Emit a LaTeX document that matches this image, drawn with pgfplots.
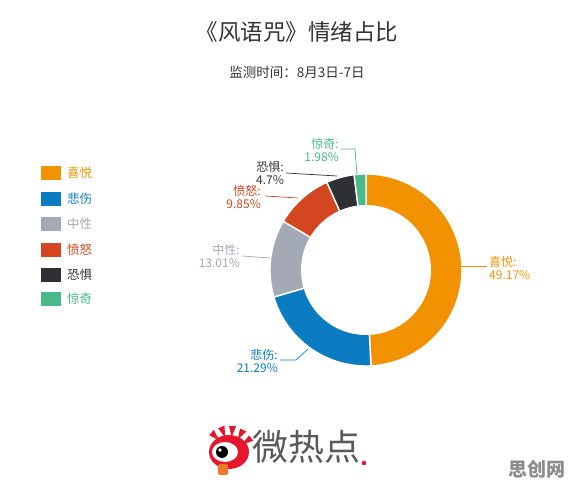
\documentclass[border=0pt]{standalone}
\usepackage{pgfplots}
\pgfplotsset{compat=1.18}
\usepackage{fontspec}
\setmainfont{Noto Sans CJK SC}
\definecolor{cJoy}{HTML}{F39200}
\definecolor{cSad}{HTML}{0B7CC1}
\definecolor{cNeu}{HTML}{A3AAB5}
\definecolor{cAng}{HTML}{D3461F}
\definecolor{cFear}{HTML}{2E3035}
\definecolor{cSur}{HTML}{47B98A}
\definecolor{cTxt}{HTML}{333333}
\definecolor{cLogoRed}{HTML}{E6162D}
\definecolor{cLogoOr}{HTML}{F07A2A}
\pgfdeclareplotmark{rsq}{%
  \pgfsetcornersarced{\pgfpoint{2.5pt}{2.5pt}}%
  \pgfpathrectanglecorners{\pgfpoint{-10pt}{-7pt}}{\pgfpoint{10pt}{7pt}}%
  \pgfusepathqfill}
% slice: cumulative start %, cumulative end %, colour
\newcommand{\slice}[3]{%
  \addplot[fill=#3, draw=white, line width=1.4pt, domain=90-3.6*#2:90-3.6*#1, samples=70, variable=\t]
    ({366+96*cos(\t)},{216+96*sin(\t)}) -- (axis cs:366,216) -- cycle;}
\begin{document}
\begin{tikzpicture}
\begin{axis}[width=573pt,height=486pt,scale only axis,
  xmin=0,xmax=573,ymin=0,ymax=486,hide axis,clip=false]
\path (axis cs:0,0) rectangle (axis cs:573,486);
% donut slices (percentages: 49.17, 21.29, 13.01, 9.85, 4.7, 1.98)
\slice{0}{49.17}{cJoy}
\slice{49.17}{70.46}{cSad}
\slice{70.46}{83.47}{cNeu}
\slice{83.47}{93.32}{cAng}
\slice{93.32}{98.02}{cFear}
\slice{98.02}{100}{cSur}
\addplot[fill=white, draw=none, domain=0:360, samples=120, variable=\t]
  ({366+65*cos(\t)},{216+65*sin(\t)}) -- cycle;
% leader lines
\addplot[cJoy, line width=0.7pt] coordinates {(461,220) (487,220)};
\addplot[cSad, line width=0.7pt] coordinates {(308,137) (296,126) (280,126)};
\addplot[cNeu, line width=0.7pt] coordinates {(270,228) (242,230)};
\addplot[cAng, line width=0.7pt] coordinates {(298,288) (265,290)};
\addplot[cFear, line width=0.7pt] coordinates {(337,310) (286,313)};
\addplot[cSur, line width=0.7pt] coordinates {(357,311) (355,337) (341,337)};
% data labels
\node[anchor=west, align=left, text=cJoy, font=\fontsize{12}{12.5}\selectfont, inner sep=0pt] at (axis cs:489,218) {喜悦:\\49.17\%};
\node[anchor=east, align=right, text=cSad, font=\fontsize{12}{12.5}\selectfont, inner sep=0pt] at (axis cs:278,125) {悲伤:\\21.29\%};
\node[anchor=east, align=right, text=cNeu, font=\fontsize{12}{12.5}\selectfont, inner sep=0pt] at (axis cs:240,230) {中性:\\13.01\%};
\node[anchor=east, align=right, text=cAng, font=\fontsize{12}{12.5}\selectfont, inner sep=0pt] at (axis cs:261,289) {愤怒:\\9.85\%};
\node[anchor=east, align=right, text=cTxt, font=\fontsize{12}{12.5}\selectfont, inner sep=0pt] at (axis cs:284,313) {恐惧:\\4.7\%};
\node[anchor=east, align=right, text=cSur, font=\fontsize{12}{12.5}\selectfont, inner sep=0pt] at (axis cs:339,336) {惊奇:\\1.98\%};
% legend markers
\addplot[only marks, mark=rsq, cJoy] coordinates {(51,313)};
\addplot[only marks, mark=rsq, cSad] coordinates {(51,287)};
\addplot[only marks, mark=rsq, cNeu] coordinates {(51,262)};
\addplot[only marks, mark=rsq, cAng] coordinates {(51,236)};
\addplot[only marks, mark=rsq, cFear] coordinates {(51,211)};
\addplot[only marks, mark=rsq, cSur] coordinates {(51,187)};
\node[anchor=west, text=cJoy, font=\fontsize{12.5}{14}\selectfont, inner sep=0pt] at (axis cs:67,313) {喜悦};
\node[anchor=west, text=cSad, font=\fontsize{12.5}{14}\selectfont, inner sep=0pt] at (axis cs:67,287) {悲伤};
\node[anchor=west, text=cNeu, font=\fontsize{12.5}{14}\selectfont, inner sep=0pt] at (axis cs:67,262) {中性};
\node[anchor=west, text=cAng, font=\fontsize{12.5}{14}\selectfont, inner sep=0pt] at (axis cs:67,236) {愤怒};
\node[anchor=west, text=cTxt, font=\fontsize{12.5}{14}\selectfont, inner sep=0pt] at (axis cs:67,211) {恐惧};
\node[anchor=west, text=cSur, font=\fontsize{12.5}{14}\selectfont, inner sep=0pt] at (axis cs:67,187) {惊奇};
% titles
\node[text=cTxt, font=\fontsize{22.5}{24}\selectfont] at (axis cs:297,454) {《风语咒》情绪占比};
\node[text=cTxt, font=\fontsize{13.5}{15}\selectfont] at (axis cs:297,414) {监测时间：8月3日-7日};
% logo
\fill[cLogoRed] (axis cs:229,34) ellipse [x radius=20pt, y radius=17pt];
\pgfplotsinvokeforeach{30,55,80,105,130}{
  \fill[cLogoRed] (axis cs:229,34) ++(#1:15pt) -- ++(#1-12:12pt) -- ++(#1+100:7pt) -- cycle;}
\fill[cLogoOr, rounded corners=2pt] (axis cs:218,22) rectangle (axis cs:228,11);
\fill[white] (axis cs:225,34) ellipse [x radius=13pt, y radius=10pt];
\fill[black] (axis cs:222,34) circle [radius=6pt];
\fill[white] (axis cs:220,36) circle [radius=1.8pt];
\node[text=black!65, font=\fontsize{36}{38}\selectfont, anchor=west, inner sep=0pt] at (axis cs:252,39) {微热点};
\fill[cLogoRed] (axis cs:364,23) circle [radius=2.3pt];
% watermark
\node[text=black!45, font=\fontsize{19}{20}\selectfont\bfseries] at (axis cs:537,17) {思创网};
\end{axis}
\end{tikzpicture}
\end{document}
